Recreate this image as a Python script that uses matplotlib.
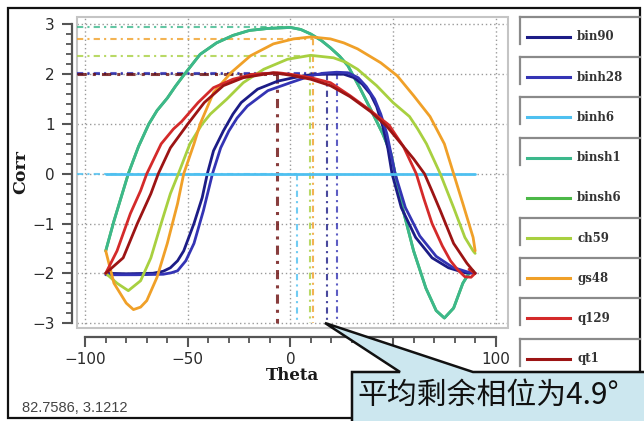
import matplotlib
matplotlib.use("Agg")
import matplotlib.pyplot as plt
from matplotlib.lines import Line2D
from matplotlib.patches import Rectangle, Polygon
from matplotlib.ticker import MultipleLocator

# ---------------- data ----------------
names = ["bin90", "binh28", "binh6", "binsh1", "binsh6", "ch59", "gs48", "q129", "qt1"]
colors = ["#1c1c86", "#3434b4", "#4ec0f0", "#3cb88c", "#4cb848", "#a8d040", "#f0a028", "#d42a2a", "#9c1414"]

bin90_t = [-90, -80, -67, -62, -58.5, -55, -52, -47, -43, -40.5, -37.5, -32.7, -28, -24, -16, -6.3, 1.5, 10, 17, 26, 31, 35, 39, 42, 45, 47.5, 49.5, 54, 61, 69, 77, 85, 90]
bin90_c = [-2.0, -2.01, -2.0, -1.96, -1.89, -1.75, -1.55, -1.0, -0.48, 0.0, 0.46, 0.86, 1.2, 1.43, 1.7, 1.86, 1.93, 1.99, 2.0, 2.0, 1.93, 1.8, 1.6, 1.35, 0.95, 0.5, 0.0, -0.68, -1.28, -1.69, -1.89, -1.99, -2.0]

binh28_t = [-90, -75, -62, -58, -55, -51, -47, -42.4, -38, -34, -30, -26, -21, -11, 0, 10, 16, 22.5, 28, 33, 37, 41, 44, 47, 49, 51, 56, 63, 71, 79, 86, 90]
binh28_c = [-2.03, -2.03, -2.02, -1.99, -1.95, -1.75, -1.4, -0.74, 0.0, 0.52, 0.86, 1.12, 1.36, 1.67, 1.83, 1.97, 2.02, 2.04, 2.03, 1.93, 1.75, 1.5, 1.2, 0.8, 0.4, 0.0, -0.68, -1.25, -1.66, -1.88, -1.97, -2.0]

binh6_t = [-90, 90]
binh6_c = [0.0, 0.0]

binsh1_t = [-90, -86, -79, -74, -69, -65, -60, -56, -52, -44, -36, -28, -20, -11, 0, 5, 9.8, 15, 19.5, 24, 28, 34, 40, 45, 49, 51, 55, 60, 66, 71, 75, 79.5, 84, 87, 89]
binsh1_c = [-1.55, -0.95, 0.0, 0.55, 1.0, 1.27, 1.52, 1.76, 1.98, 2.4, 2.63, 2.78, 2.88, 2.92, 2.94, 2.9, 2.81, 2.68, 2.53, 2.36, 2.17, 1.71, 1.22, 0.8, 0.4, 0.0, -0.75, -1.55, -2.3, -2.75, -2.9, -2.7, -2.2, -2.0, -1.95]

binsh6_t = list(binsh1_t)
binsh6_c = list(binsh1_c)

ch59_t = [-90, -84.5, -79, -73, -68, -63, -58.5, -54.6, -49, -43, -39, -31, -23, -13, -1.5, 9.8, 21, 27, 32.7, 42, 50, 58, 62, 66.3, 73, 79.5, 85, 89, 90]
ch59_c = [-2.0, -2.2, -2.35, -2.15, -1.69, -1.0, -0.4, 0.0, 0.6, 1.0, 1.2, 1.5, 1.83, 2.1, 2.3, 2.38, 2.33, 2.24, 2.1, 1.77, 1.43, 1.15, 0.9, 0.6, 0.0, -0.68, -1.28, -1.55, -1.6]

gs48_t = [-90, -86, -80, -76.5, -73, -70, -65, -60, -55, -52, -47, -44, -37.5, -29, -19.5, -8.3, 1.5, 10, 19.5, 26, 32.7, 44, 52, 60, 68, 75, 79.5, 84, 89, 90]
gs48_c = [-1.55, -2.2, -2.6, -2.73, -2.68, -2.55, -2.08, -1.4, -0.6, 0.0, 0.6, 1.0, 1.63, 2.03, 2.37, 2.61, 2.71, 2.75, 2.71, 2.63, 2.51, 2.23, 1.97, 1.57, 1.15, 0.6, 0.0, -0.6, -1.28, -1.55]

q129_t = [-90, -84.5, -78, -73, -70, -63, -57, -53, -45, -37.5, -28, -18, -6.3, 0, 10, 19.5, 29, 38, 48, 55, 61.3, 65, 69, 74, 78, 81.5, 85, 88, 90, 87]
q129_c = [-2.0, -1.55, -0.8, -0.34, 0.0, 0.6, 0.9, 1.05, 1.43, 1.73, 1.9, 2.0, 2.03, 2.0, 1.93, 1.83, 1.57, 1.3, 0.98, 0.55, 0.0, -0.5, -1.0, -1.45, -1.75, -1.93, -2.07, -2.08, -2.0, -1.92]

qt1_t = [-90, -81.5, -74.6, -68, -64.4, -58.5, -50, -42, -32.7, -23, -8.3, 0, 9.8, 19.5, 29, 39, 47, 53, 60, 65.3, 69, 73, 79.5, 86, 90]
qt1_c = [-2.0, -1.69, -1.0, -0.4, 0.0, 0.52, 1.0, 1.43, 1.77, 1.93, 2.03, 1.98, 1.9, 1.77, 1.55, 1.25, 0.95, 0.65, 0.3, 0.0, -0.35, -0.74, -1.4, -1.8, -2.0]

# peak markers (theta, corr) for the dashed guide lines
peak_theta = [17.7, 22.5, 3.2, 0.0, None, 9.3, 10.8, None, -6.5]
peak_corr = [2.0, 2.03, 0.0, 2.95, None, 2.36, 2.71, None, 2.01]

xticks = [-100, -50, 0, 50, 100]
yticks = [-3, -2, -1, 0, 1, 2, 3]

series_t = [bin90_t, binh28_t, binh6_t, binsh1_t, binsh6_t, ch59_t, gs48_t, q129_t, qt1_t]
series_c = [bin90_c, binh28_c, binh6_c, binsh1_c, binsh6_c, ch59_c, gs48_c, q129_c, qt1_c]

# ---------------- figure ----------------
W, H = 644, 421
fig = plt.figure(figsize=(W / 100, H / 100), dpi=100)
fig.patch.set_facecolor("white")

def fx(px):
    return px / W

def fy(py):
    return 1 - py / H

ax = fig.add_axes([fx(77), fy(328), fx(508) - fx(77), fy(17) - fy(328)])
ax.set_xlim(-104, 106)
ax.set_ylim(-3.1, 3.15)

ax.grid(True, which="major", linestyle=(0, (1, 2)), color="#9a9a9a", linewidth=1.0)
ax.set_axisbelow(True)

XL = -104
# guide lines (dashed)
for i, (pt, pc) in enumerate(zip(peak_theta, peak_corr)):
    if pt is None:
        continue
    col = colors[i]
    lw = 2.2 if names[i] == "qt1" else 1.5
    c2 = "#6a0c0c" if names[i] == "qt1" else col
    ls = (0, (3, 2, 1, 2))
    ax.plot([XL, pt], [pc, pc], color=c2, lw=lw, ls=ls, zorder=2, alpha=0.8)
    if names[i] != "binsh1":
        ax.plot([pt, pt], [pc, -3], color=c2, lw=lw, ls=ls, zorder=2, alpha=0.8)

# curves
order = [4, 3, 0, 1, 2, 5, 6, 7, 8]
for i in order:
    ax.plot(series_t[i], series_c[i], color=colors[i], lw=2.0, zorder=3,
            solid_joinstyle="round", solid_capstyle="round")

# axes styling
for s in ["top", "right"]:
    ax.spines[s].set_visible(False)
ax.spines["left"].set_position(("outward", 3.6))
ax.spines["bottom"].set_position(("outward", 6.5))
ax.spines["left"].set_bounds(-3, 3)
ax.spines["bottom"].set_bounds(-100, 100)
for s in ["left", "bottom"]:
    ax.spines[s].set_color("#555555")
    ax.spines[s].set_linewidth(1.6)
ax.add_patch(Rectangle((0, 0), 1, 1, transform=ax.transAxes, fill=False,
                       edgecolor="#c4c4c4", lw=1.5, clip_on=False, zorder=1))

ax.set_xticks(xticks)
ax.set_xticklabels([str(v).replace("-", "\u2212") for v in xticks])
ax.set_yticks(yticks)
ax.set_yticklabels([str(v).replace("-", "\u2212") for v in yticks])
ax.xaxis.set_minor_locator(MultipleLocator(10))
ax.yaxis.set_minor_locator(MultipleLocator(0.2))
ax.tick_params(which="major", direction="out", length=7.5, width=1.5, color="#555555",
               labelsize=11, labelcolor="#2a2a2a")
ax.tick_params(which="minor", direction="out", length=4, width=1.3, color="#555555")
ax.tick_params(axis="x", pad=3)
ax.tick_params(axis="y", pad=5)

ax.set_xlabel("Theta", fontfamily="DejaVu Serif", fontweight="bold", fontsize=12,
              color="#1a1a1a", labelpad=0)
ax.set_ylabel("Corr", fontfamily="DejaVu Serif", fontweight="bold", fontsize=12.5,
              color="#1a1a1a", labelpad=2)

# status text
fig.text(fx(22), fy(408), "82.7586, 3.1212", fontfamily="Liberation Sans", fontsize=10.5,
         color="#444444", va="center", ha="left")

# legend (manual, framed entries)
for i, name in enumerate(names):
    yc = 37 + 40.2 * i
    if name != "binsh6":
        fig.add_artist(Line2D([fx(520), fx(640)], [fy(yc - 20), fy(yc - 20)], color="#8a8a8a", lw=1.6))
        fig.add_artist(Line2D([fx(520), fx(520)], [fy(yc - 20), fy(yc + 7)], color="#8a8a8a", lw=1.6))
    fig.add_artist(Line2D([fx(527), fx(570)], [fy(yc), fy(yc)], color=colors[i], lw=2.2))
    fig.text(fx(577), fy(yc), name, fontfamily="DejaVu Serif", fontweight="bold", fontsize=8.5,
             color="#333333", va="center", ha="left")

# outer frame
fig.add_artist(Rectangle((fx(8), fy(418)), fx(640) - fx(8), fy(8) - fy(418), fill=False,
                         edgecolor="#111111", lw=1.6, transform=fig.transFigure))

# callout
pts = [(352, 425), (352, 372), (400, 372), (325, 323), (473, 372), (648, 372), (648, 425)]
fig.add_artist(Polygon([(fx(x), fy(y)) for x, y in pts], closed=True, facecolor="#cce7ef",
                       edgecolor="#111111", lw=1.8, transform=fig.transFigure, zorder=10))
fig.text(fx(357), fy(395), "平均剩余相位为4.9°", fontfamily=["Noto Sans CJK SC", "DejaVu Sans"],
         fontsize=21.5, color="#111111", va="center", ha="left", zorder=11)

fig.savefig("out.png", dpi=100)
